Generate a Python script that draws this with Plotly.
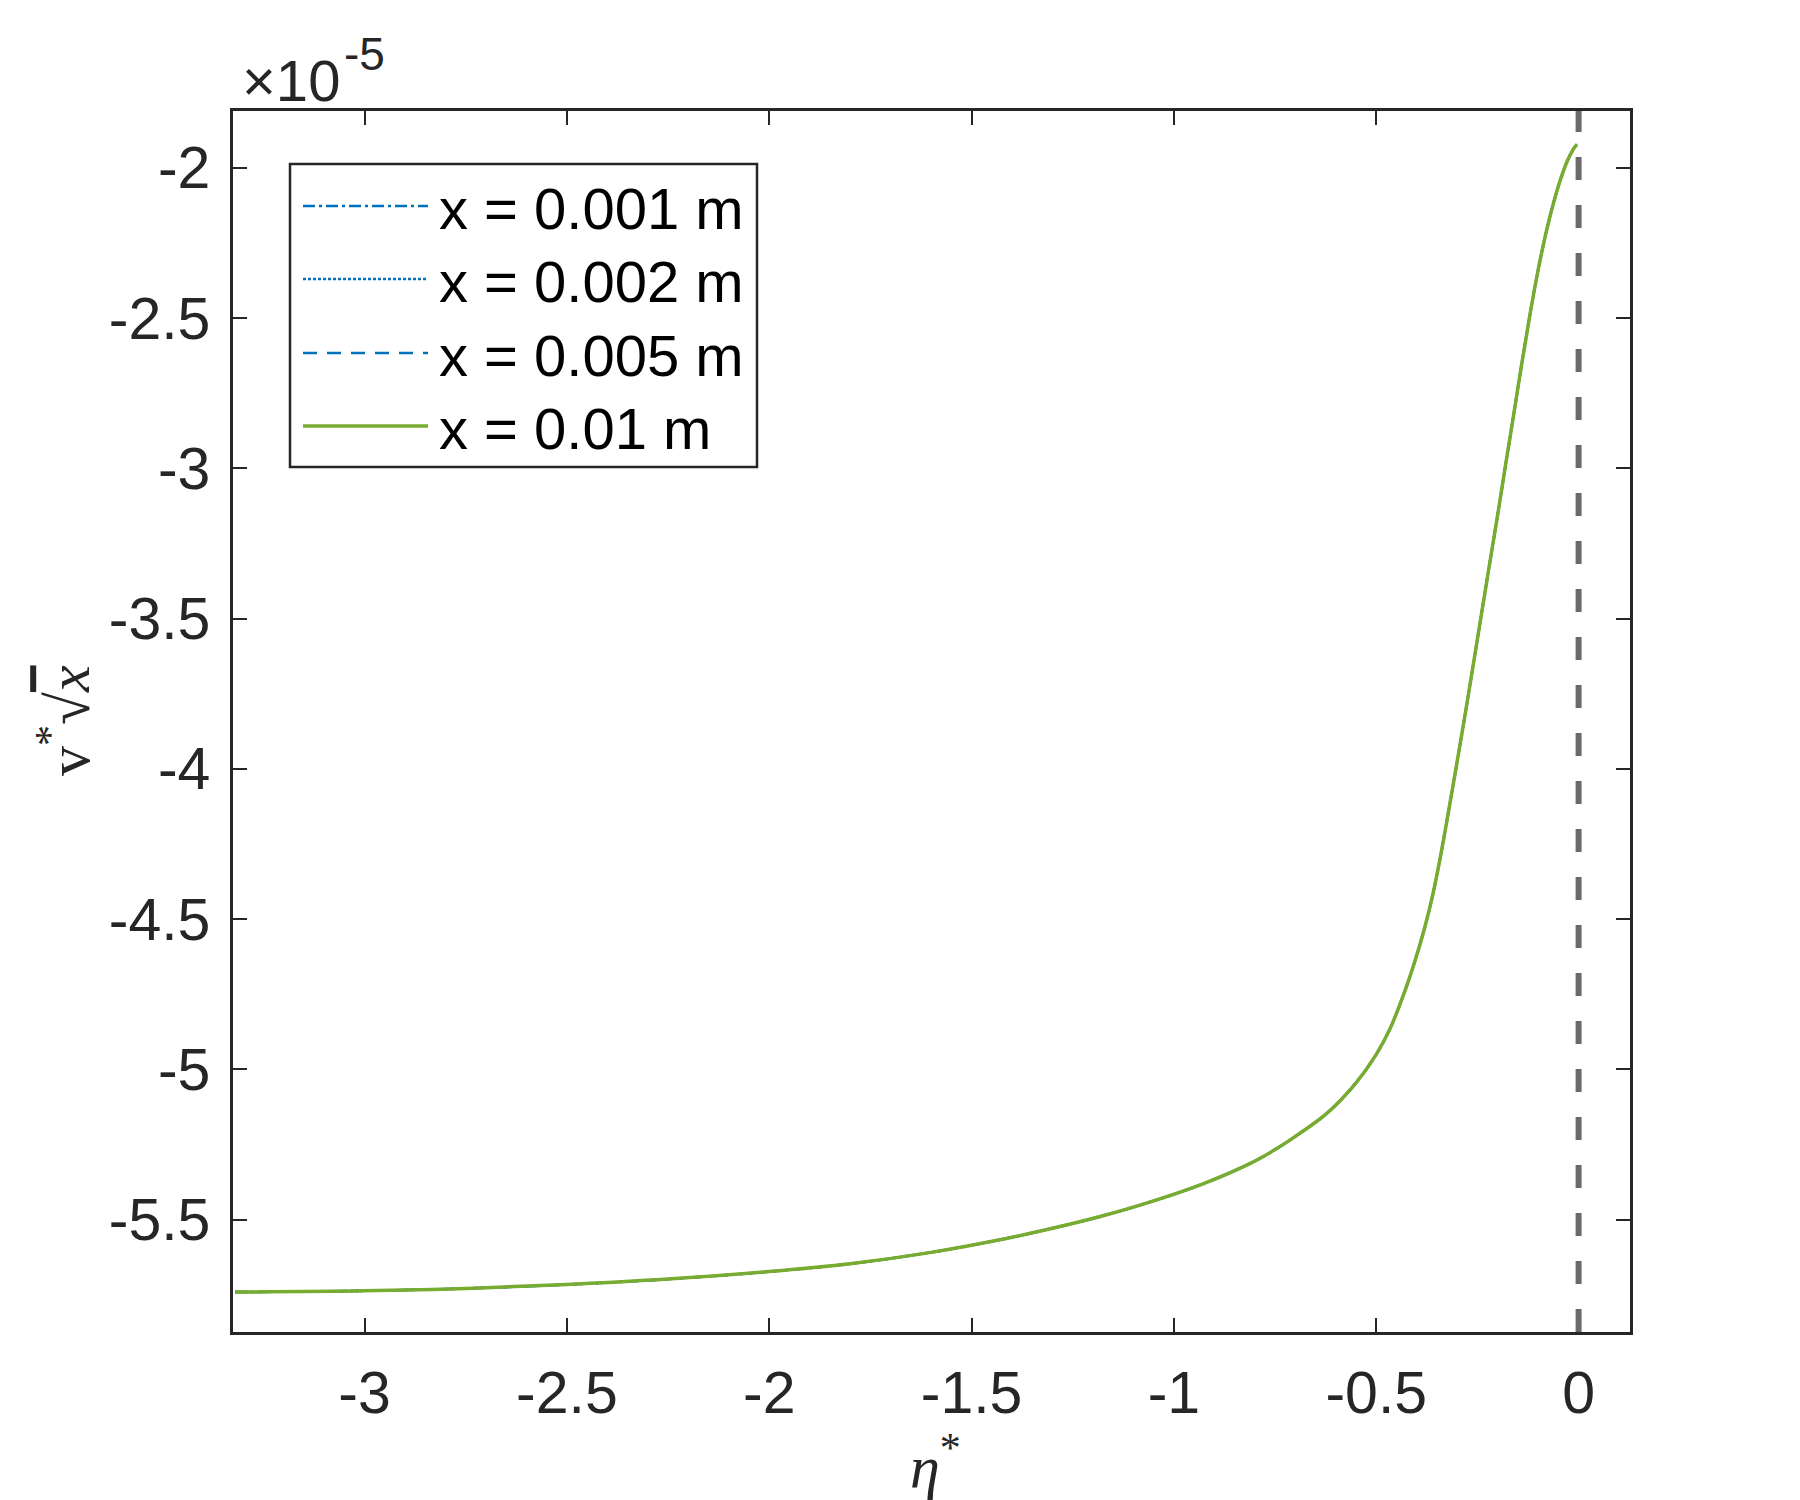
import plotly.graph_objects as go

# Datos (v* sqrt(x) en unidades de 1e-5)
eta = [-3.32, -3.0, -2.75, -2.5, -2.25, -2.0, -1.8, -1.6, -1.43, -1.3,
       -1.18, -1.06, -0.93, -0.81, -0.75, -0.69, -0.62, -0.55, -0.5, -0.465,
       -0.43, -0.405, -0.38, -0.36, -0.34, -0.318, -0.3, -0.275, -0.25, -0.225,
       -0.2, -0.18, -0.16, -0.14, -0.12, -0.1, -0.08, -0.06, -0.045, -0.03,
       -0.02, -0.01, -0.004]

v_x0001 = [-5.741, -5.737, -5.729, -5.716, -5.698, -5.673, -5.647, -5.609, -5.567, -5.529,
           -5.489, -5.442, -5.382, -5.312, -5.267, -5.214, -5.144, -5.045, -4.950, -4.862,
           -4.742, -4.642, -4.527, -4.417, -4.282, -4.115, -3.975, -3.775, -3.568, -3.360,
           -3.155, -2.985, -2.818, -2.648, -2.487, -2.340, -2.213, -2.107, -2.040, -1.984,
           -1.955, -1.932, -1.922]
# las cuatro curvas se superponen en la figura
v_x0002 = list(v_x0001)
v_x0005 = list(v_x0001)
v_x001 = list(v_x0001)

nombres = ["x = 0.001 m", "x = 0.002 m", "x = 0.005 m", "x = 0.01 m"]
series = [v_x0001, v_x0002, v_x0005, v_x001]

x_ticks = [-3, -2.5, -2, -1.5, -1, -0.5, 0]
x_ticktext = ["-3", "-2.5", "-2", "-1.5", "-1", "-0.5", "0"]
y_ticks = [-2, -2.5, -3, -3.5, -4, -4.5, -5, -5.5]
y_ticktext = ["-2", "-2.5", "-3", "-3.5", "-4", "-4.5", "-5", "-5.5"]

AZUL = "#0072BD"
VERDE = "#77AC30"
EJE = "#262626"
SANS = "Liberation Sans, Arial"
SERIF = "Liberation Serif, DejaVu Serif"
estilos = [
    dict(color=AZUL, width=2.5, dash="12px,4px,3px,4px"),
    dict(color=AZUL, width=2.5, dash="3px,2px"),
    dict(color=AZUL, width=2.5, dash="14px,10px"),
    dict(color=VERDE, width=3.5, dash="solid"),
]

W, H = 1800, 1500
L, R, T, B = 225, 178, 103, 176
OFF = 8  # margen del body de la página


def px_x(px):
    return (px - OFF - L) / (W - L - R)


def px_y(py):
    return 1 - (py - OFF - T) / (H - T - B)


fig = go.Figure()

for nombre, v, estilo in zip(nombres, series, estilos):
    fig.add_trace(go.Scatter(
        x=eta, y=v, mode="lines", name=nombre,
        line=dict(shape="spline", smoothing=1.0, **estilo),
        showlegend=False
    ))

# línea vertical discontinua en eta* = 0
fig.add_vline(x=0, line=dict(color="#6b6b6b", width=6, dash="23px,25px"))

# Leyenda dibujada a mano (muestras largas como en MATLAB)
fig.add_shape(type="rect", xref="paper", yref="paper",
              x0=px_x(290), x1=px_x(757), y0=px_y(467), y1=px_y(164),
              line=dict(color=EJE, width=2.5), fillcolor="white", layer="above")
filas = [206, 279, 353, 426]
for nombre, estilo, fy in zip(nombres, estilos, filas):
    fig.add_shape(type="line", xref="paper", yref="paper",
                  x0=px_x(303), x1=px_x(428), y0=px_y(fy), y1=px_y(fy),
                  line=estilo, layer="above")
    fig.add_annotation(text=nombre, xref="paper", yref="paper",
                       x=px_x(437), y=px_y(fy + 2), xanchor="left", yanchor="middle",
                       showarrow=False, font=dict(family=SANS, size=58, color="black"))

# multiplicador del eje y
fig.add_annotation(text="×10", xref="paper", yref="paper",
                   x=px_x(240), y=px_y(81), xanchor="left", yanchor="middle",
                   showarrow=False, font=dict(family=SANS, size=58, color=EJE))
fig.add_annotation(text="-5", xref="paper", yref="paper",
                   x=px_x(342), y=px_y(54), xanchor="left", yanchor="middle",
                   showarrow=False, font=dict(family=SANS, size=46, color=EJE))

# títulos de los ejes
fig.add_annotation(text="<i>η</i><sup>*</sup>", xref="paper", yref="paper",
                   x=px_x(935), y=px_y(1462), xanchor="center", yanchor="middle",
                   showarrow=False, font=dict(family=SERIF, size=60, color=EJE))
fig.add_annotation(text="v<sup>*</sup>√<span style='text-decoration:overline'><i>x</i></span>",
                   xref="paper", yref="paper", textangle=-90,
                   x=px_x(64), y=px_y(721), xanchor="center", yanchor="middle",
                   showarrow=False, font=dict(family=SERIF, size=60, color=EJE))

fig.update_xaxes(
    range=[-3.325, 0.127], tickvals=x_ticks, ticktext=x_ticktext,
    showline=True, mirror="allticks", linecolor=EJE, linewidth=2.5,
    ticks="inside", ticklen=14, tickwidth=2, tickcolor=EJE,
    showgrid=False, zeroline=False, ticklabelstandoff=7,
    tickfont=dict(family=SANS, size=59, color=EJE)
)
fig.update_yaxes(
    range=[-5.874, -1.811], tickvals=y_ticks, ticktext=y_ticktext,
    showline=True, mirror="allticks", linecolor=EJE, linewidth=2.5,
    ticks="inside", ticklen=14, tickwidth=2, tickcolor=EJE,
    showgrid=False, zeroline=False, ticklabelstandoff=8,
    tickfont=dict(family=SANS, size=59, color=EJE)
)

fig.update_layout(
    width=W, height=H,
    margin=dict(l=L, r=R, t=T, b=B, autoexpand=False),
    paper_bgcolor="white", plot_bgcolor="white",
    showlegend=False
)

fig.write_html("out.html")
